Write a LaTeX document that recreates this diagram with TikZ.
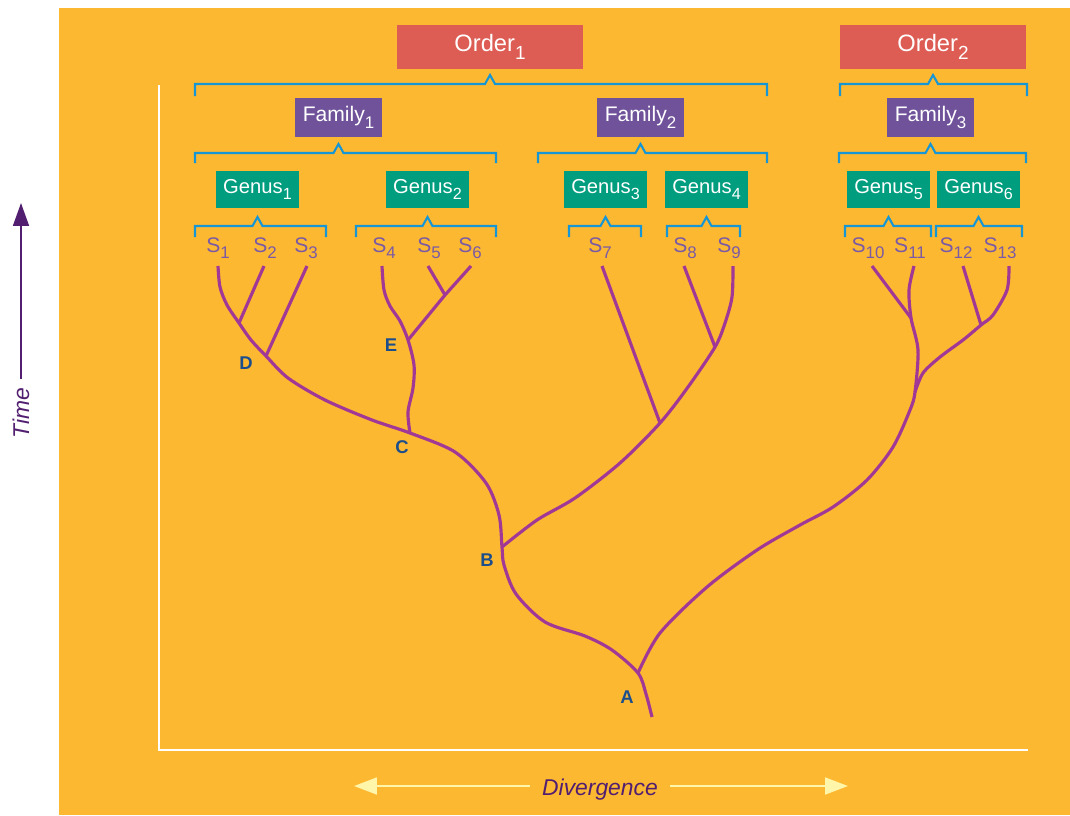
\documentclass[tikz,border=0pt]{standalone}
\usepackage{fontspec}
\setmainfont{Liberation Sans}
\usepackage{xcolor}
\definecolor{phyorange}{RGB}{253,184,50}
\definecolor{phyred}{RGB}{221,93,84}
\definecolor{phypurple}{RGB}{112,82,154}
\definecolor{phygreen}{RGB}{0,157,127}
\definecolor{phyblue}{RGB}{22,150,212}
\definecolor{physpecies}{RGB}{122,90,164}
\definecolor{phybranch}{RGB}{162,56,150}
\definecolor{phyletter}{RGB}{28,78,140}
\definecolor{phydark}{RGB}{82,30,112}
\definecolor{phycream}{RGB}{255,246,170}
\usetikzlibrary{arrows.meta, calc}

\tikzset{
  taxbox/.style={text=white, inner sep=0pt},
  orderbox/.style={taxbox, fill=phyred, minimum width=3.72cm, minimum height=0.88cm,
    font=\fontsize{13.5}{16}\selectfont},
  familybox/.style={taxbox, fill=phypurple, minimum width=1.74cm, minimum height=0.78cm,
    font=\fontsize{12}{14}\selectfont},
  genusbox/.style={taxbox, fill=phygreen, minimum width=1.66cm, minimum height=0.74cm,
    font=\fontsize{11.5}{14}\selectfont},
  species/.style={text=physpecies, inner sep=0pt, anchor=base, font=\fontsize{12}{14}\selectfont},
  letter/.style={text=phyletter, font=\fontsize{10.5}{12}\selectfont\bfseries},
  brace/.style={draw=phyblue, line width=1.2pt},
  branch/.style={draw=phybranch, line width=1.8pt, line join=round},
  axis/.style={draw=white, line width=1.1pt},
  divarrow/.style={draw=phycream, line width=1.4pt, -{Triangle[length=13pt,width=9.5pt]}},
  timearrow/.style={draw=phydark, line width=1.1pt, -{Triangle[length=13pt,width=9pt]}}
}

% large, low subscript as in the figure
\newcommand{\lowsub}[1]{\raisebox{-0.62ex}{\scalebox{0.8}{#1}}}

% bracket under a taxon box: node, left x, right x, line y, end y
\newcommand{\taxbrace}[5]{
  \coordinate (bp) at (#1.south |- 0,#4);
  \draw[brace] (#2,#5) -- (#2,#4) -- ([xshift=-0.1cm]bp) -- ([yshift=0.18cm]bp)
    -- ([xshift=0.1cm]bp) -- (#3,#4) -- (#3,#5);
}

\begin{document}
\begin{tikzpicture}[x=0.02cm, y=-0.02cm]
  \useasboundingbox (0,0) rectangle (1070,815);
  \fill[phyorange] (59,8) rectangle (1070,815);

  % axes
  \coordinate (ytop) at (159,85);
  \coordinate (origin) at (159,750);
  \coordinate (xend) at (1028,750);
  \draw[axis] (ytop) -- (origin) -- (xend);

  % taxon boxes
  \node[orderbox] (order1) at (490,47) {Order\lowsub{1}};
  \node[orderbox] (order2) at (933,47) {Order\lowsub{2}};
  \node[familybox] (family1) at (338.5,117.5) {Family\lowsub{1}};
  \node[familybox] (family2) at (640.5,117.5) {Family\lowsub{2}};
  \node[familybox] (family3) at (930.5,117.5) {Family\lowsub{3}};
  \foreach \i/\x in {1/257.5, 2/427.5, 3/605.5, 4/706.5, 5/888.5, 6/978.5}
    \node[genusbox] (genus\i) at (\x,189.5) {Genus\lowsub{\i}};

  \taxbrace{order1}{195}{767}{84}{96}
  \taxbrace{order2}{840}{1027}{84}{96}
  \taxbrace{family1}{195}{496}{153}{163}
  \taxbrace{family2}{538}{767}{153}{163}
  \taxbrace{family3}{839}{1026}{153}{163}
  \taxbrace{genus1}{195}{326}{226}{237}
  \taxbrace{genus2}{356}{496}{226}{237}
  \taxbrace{genus3}{569}{641}{226}{237}
  \taxbrace{genus4}{667}{740}{226}{237}
  \taxbrace{genus5}{845}{931}{226}{237}
  \taxbrace{genus6}{936}{1022}{226}{237}

  % species and branch tips
  \foreach \i/\x in {1/218, 2/265, 3/306, 4/384, 5/429, 6/470, 7/600,
                     8/685, 9/729, 10/868, 11/910, 12/956, 13/1000}
    \node[species] (s\i) at (\x,252) {S\lowsub{\i}};
  \foreach \i/\x in {1/218, 2/264, 3/307, 4/382, 5/428, 6/471, 7/602,
                     8/684, 9/733, 10/872, 11/914, 12/963, 13/1009}
    \coordinate (t\i) at (\x,266);

  % branch points
  \coordinate (root) at (652,717);
  \coordinate (A) at (638,673);
  \coordinate (B) at (502,547);
  \coordinate (C) at (410,433);
  \coordinate (D) at (266,356);
  \coordinate (D1) at (239,323);
  \coordinate (E) at (408,340);
  \coordinate (E1) at (445,295);
  \coordinate (F1) at (660,423);
  \coordinate (F2) at (715,347);
  \coordinate (H) at (915,392);
  \coordinate (H1) at (911,318);
  \coordinate (H2) at (981,325);

  % tree
  \draw[branch] plot[smooth] coordinates {(root) (646,694) (A) (612,650) (585,636)
    (545,622) (516,594) (504,565) (B) (499,515) (486,483) (455,452) (C)
    (372,420) (325,400) (288,378) (D) (251,340) (D1) (227,305) (220,287) (t1)};
  \draw[branch] plot[smooth] coordinates {(C) (408,412) (413,388) (414,365) (E)
    (400,321) (390,306) (384,290) (t4)};
  \draw[branch] (E) -- (E1) -- (t6);
  \draw[branch] (E1) -- (t5);
  \draw[branch] (D) -- (t3);
  \draw[branch] (D1) -- (t2);
  \draw[branch] plot[smooth] coordinates {(B) (537,520) (575,498) (620,463) (F1)
    (688,387) (F2) (725,323) (732,297) (t9)};
  \draw[branch] (F1) -- (t7);
  \draw[branch] (F2) -- (t8);
  \draw[branch] plot[smooth] coordinates {(A) (660,633) (707,587) (757,550) (800,525)
    (833,507) (867,480) (893,447) (910,410) (H) (918,350) (H1) (909,290) (t11)};
  \draw[branch] plot[smooth] coordinates {(H) (923,373) (940,357) (963,340) (H2)
    (993,315) (1007,290) (t13)};
  \draw[branch] (H1) -- (t10);
  \draw[branch] (H2) -- (t12);

  \node[letter] (labA) at (627,697) {A};
  \node[letter] (labB) at (487,560) {B};
  \node[letter] (labC) at (402,447) {C};
  \node[letter] (labD) at (246,363) {D};
  \node[letter] (labE) at (391,345) {E};

  % divergence and time arrows
  \node[font=\fontsize{13}{15}\selectfont\itshape, text=phydark, inner xsep=6.5pt]
    (div) at (600,790) {Divergence};
  \coordinate (divL) at (354,786);
  \coordinate (divR) at (848,786);
  \draw[divarrow] (div.west |- divL) -- (divL);
  \draw[divarrow] (div.east |- divR) -- (divR);

  \node[rotate=90, font=\fontsize{13}{15}\selectfont\itshape, text=phydark, inner xsep=5pt]
    (time) at (21,413) {Time};
  \coordinate (timeTop) at (21,203);
  \draw[timearrow] (time.east) -- (timeTop);
\end{tikzpicture}
\end{document}
